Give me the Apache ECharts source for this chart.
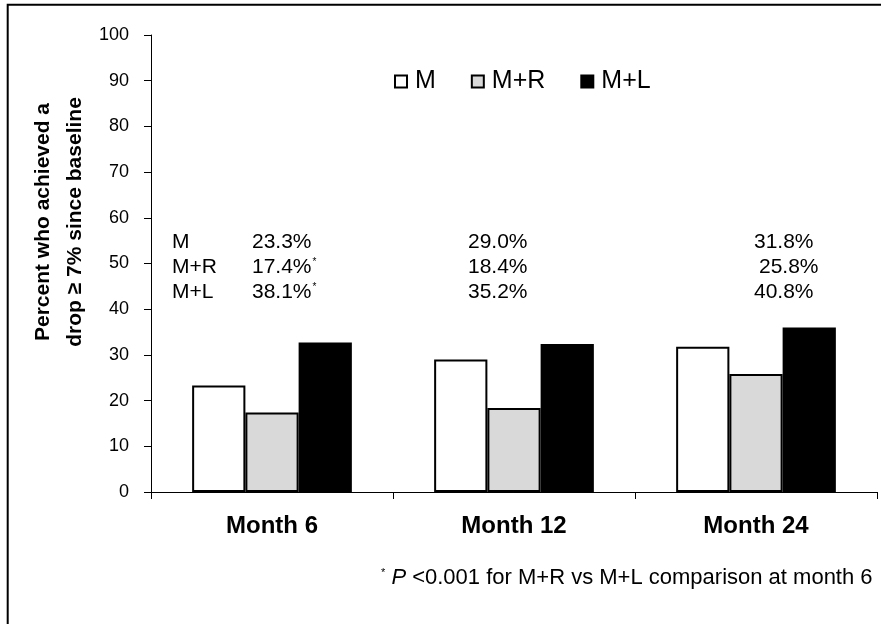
<!DOCTYPE html>
<html>
<head>
<meta charset="utf-8">
<script src="https://cdn.jsdelivr.net/npm/echarts@6/dist/echarts.min.js"></script>
<style>
  html, body { margin: 0; padding: 0; background: #fff; }
  #chart { width: 881px; height: 624px; }
</style>
</head>
<body>
<div id="chart"></div>
<script>
var categories = ['Month 6', 'Month 12', 'Month 24'];
var seriesNames = ['M', 'M+R', 'M+L'];
var valuesM = [23.3, 29.0, 31.8];
var valuesMR = [17.4, 18.4, 25.8];
var valuesML = [32.7, 32.4, 36.0];
var yTicks = [0, 10, 20, 30, 40, 50, 60, 70, 80, 90, 100];

// table printed above the bars
var tableMonth6 = ['23.3%', '17.4%', '38.1%'];
var tableMonth12 = ['29.0%', '18.4%', '35.2%'];
var tableMonth24 = ['31.8%', '25.8%', '40.8%'];
var tableStar = [false, true, true];

var FONT = '"Liberation Sans", Arial, sans-serif';

function tableText() {
  var _items = [],
    _rowY = [244, 269, 294],
    _m24x = [754, 759, 754];
  for (var i = 0; i < seriesNames.length; i++) {
    _items.push({
      type: 'text', left: 172, top: _rowY[i] - 12,
      style: { text: seriesNames[i], font: '21px ' + FONT, fill: '#000' }
    });
    _items.push({
      type: 'text', left: 252, top: _rowY[i] - 12,
      style: {
        text: tableMonth6[i] + (tableStar[i] ? '{s|*}' : ''),
        font: '21px ' + FONT, fill: '#000',
        rich: { s: { fontSize: 10, verticalAlign: 'top', padding: [0, 0, 11, 1], fontFamily: FONT } }
      }
    });
    _items.push({
      type: 'text', left: 468, top: _rowY[i] - 12,
      style: { text: tableMonth12[i], font: '21px ' + FONT, fill: '#000' }
    });
    _items.push({
      type: 'text', left: _m24x[i], top: _rowY[i] - 12,
      style: { text: tableMonth24[i], font: '21px ' + FONT, fill: '#000' }
    });
  }
  return _items;
}

var myChart = echarts.init(document.getElementById('chart'), null, { renderer: 'canvas' });

var barBorder = { borderColor: '#000', borderWidth: 2 };

var option = {
  backgroundColor: '#fff',
  animation: false,
  textStyle: { fontFamily: FONT },
  grid: { left: 151, right: 4, top: 35, bottom: 132, containLabel: false },
  legend: {
    data: seriesNames,
    left: 389,
    top: 64,
    icon: 'rect',
    itemWidth: 12,
    itemHeight: 12,
    itemGap: 35,
    textStyle: { fontSize: 25, color: '#000', fontFamily: FONT, padding: [0, 0, 0, 3] },
    itemStyle: { borderColor: '#000', borderWidth: 2 }
  },
  xAxis: {
    type: 'category',
    data: categories,
    axisLine: { lineStyle: { color: '#000', width: 1 } },
    axisTick: { show: true, length: 7, lineStyle: { color: '#000' } },
    axisLabel: { fontSize: 24, fontWeight: 'bold', color: '#000', margin: 22, fontFamily: FONT },
    splitLine: { show: false }
  },
  yAxis: {
    type: 'value',
    min: yTicks[0],
    max: yTicks[yTicks.length - 1],
    interval: 10,
    axisLine: { show: true, lineStyle: { color: '#000', width: 1 } },
    axisTick: { show: true, length: 7, lineStyle: { color: '#000' } },
    axisLabel: { fontSize: 18, color: '#000', margin: 22, fontFamily: FONT },
    splitLine: { show: false }
  },
  series: [
    {
      name: seriesNames[0], type: 'bar', data: valuesM,
      barGap: '0%', barCategoryGap: '34%',
      itemStyle: Object.assign({ color: '#fff' }, barBorder)
    },
    {
      name: seriesNames[1], type: 'bar', data: valuesMR,
      barGap: '0%', barCategoryGap: '34%',
      itemStyle: Object.assign({ color: '#d9d9d9' }, barBorder)
    },
    {
      name: seriesNames[2], type: 'bar', data: valuesML,
      barGap: '0%', barCategoryGap: '34%',
      itemStyle: Object.assign({ color: '#000' }, barBorder)
    }
  ],
  graphic: [
    {
      type: 'rect', silent: true,
      shape: { x: 7.7, y: 4.7, width: 900, height: 650 },
      style: { fill: 'none', stroke: '#000', lineWidth: 2 }
    },
    {
      type: 'text', x: 59, y: 222, rotation: Math.PI / 2,
      style: {
        text: 'Percent who achieved a\ndrop \u2265 7% since baseline',
        font: 'bold 21px ' + FONT, fill: '#000',
        align: 'center', verticalAlign: 'middle', lineHeight: 32
      }
    },
    {
      type: 'text', left: 381, top: 567,
      style: {
        text: '{s|*} {i|P} <0.001 for M+R vs M+L comparison at month 6',
        font: '22px ' + FONT, fill: '#000',
        rich: {
          s: { fontSize: 11, verticalAlign: 'top', padding: [0, 0, 11, 0], fontFamily: FONT },
          i: { fontSize: 22, fontStyle: 'italic', fontFamily: FONT }
        }
      }
    }
  ].concat(tableText())
};

myChart.setOption(option, true);
</script>
</body>
</html>
